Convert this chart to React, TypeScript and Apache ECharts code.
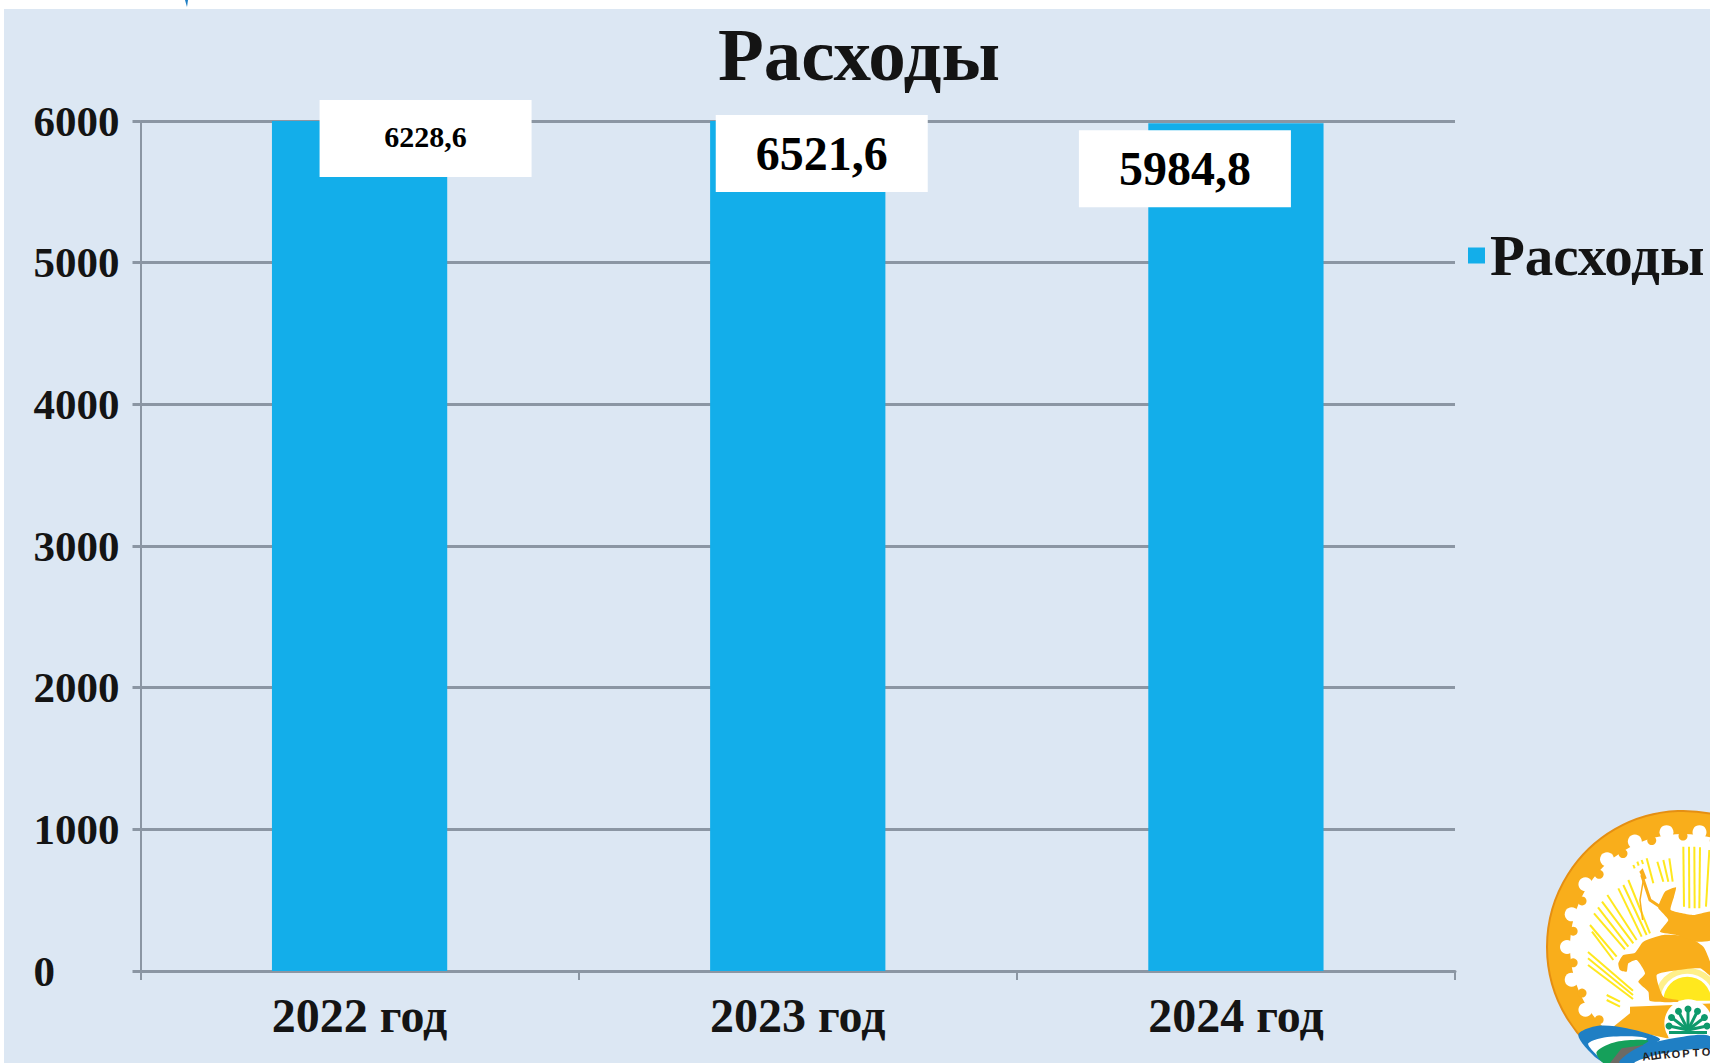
import React, { useEffect, useRef } from "react";
import * as echarts from "echarts";

const categories = ["2022 год", "2023 год", "2024 год"];
const expenses = [6228.6, 6521.6, 5984.8];
const seriesName = "Расходы";
const titleText = "Расходы";
const yTicks = [0, 1000, 2000, 3000, 4000, 5000, 6000];

const SERIF = '"Liberation Serif", "Times New Roman", serif';
const BG = "#DCE7F3";
const BAR = "#13AEEA";
const LINE = "#8B96A3";
const ORANGE = "#F9AE1B";
const YEL = "#FFE81E";

const P = (x: number, y: number): [number, number] => [1440 + x / 3, 780 + y / 3];
const PS = (a: number[][]) => a.map(([x, y]) => P(x, y));
const Q = (x: number, y: number): [number, number] => [1600 + x / 3, 800 + y / 3];
const QS = (a: number[][]) => a.map(([x, y]) => Q(x, y));

const RAYS: number[][] = [
  [250, 140, 252, 320], [267, 140, 268, 325], [283, 140, 284, 325], [300, 142, 298, 325], [328, 150, 318, 320],
  [172, 185, 190, 245], [190, 180, 205, 245], [208, 175, 218, 245],
  [100, 195, 104, 205], [112, 185, 116, 197], [125, 180, 129, 192], [140, 175, 160, 250],
  [55, 265, 125, 410], [70, 255, 140, 405], [85, 240, 150, 400],
  [22, 285, 110, 420], [6, 305, 100, 430], [-6, 322, 85, 440], [-18, 340, 75, 448],
  [-30, 375, 50, 470], [-24, 395, 40, 480], [-36, 456, 99, 572], [-36, 475, 99, 585], [-36, 495, 99, 597],
  [20, 585, 60, 605], [20, 600, 60, 620],
];

function buildLogo() {
  const cx = 1683, cy = 947, R = 136;
  const out: any[] = [];
  out.push({ type: "circle", shape: { cx, cy, r: R }, style: { fill: ORANGE, stroke: "#E58F12", lineWidth: 2 } });
  out.push({ type: "circle", shape: { cx, cy, r: 113 }, style: { fill: "#fff" } });
  const N = 22;
  for (let i = 0; i < N; i++) {
    const a = (i / N) * Math.PI * 2;
    const h = a + Math.PI / N;
    out.push({ type: "circle", shape: { cx: cx + Math.cos(a) * 116, cy: cy + Math.sin(a) * 116, r: 7 }, style: { fill: "#fff" } });
    out.push({ type: "circle", shape: { cx: cx + Math.cos(h) * 111, cy: cy + Math.sin(h) * 111, r: 4.5 }, style: { fill: ORANGE } });
  }
  RAYS.forEach(([x1, y1, x2, y2]) => {
    const a = Q(x1, y1), b = Q(x2, y2);
    out.push({ type: "line", shape: { x1: a[0], y1: a[1], x2: b[0], y2: b[1] }, style: { stroke: YEL, lineWidth: 2 } });
  });
  // sun
  const [sx, sy] = Q(262, 602);
  out.push({ type: "sector", shape: { cx: sx, cy: sy, r: 33, r0: 27, startAngle: Math.PI, endAngle: Math.PI * 2 }, style: { fill: "#FFF08A" } });
  out.push({ type: "sector", shape: { cx: sx, cy: sy, r: 24, startAngle: Math.PI, endAngle: Math.PI * 2 }, style: { fill: YEL } });
  // horse
  out.push({ type: "polygon", shape: { smooth: 0.2, points: QS([[55,490],[70,465],[105,458],[130,425],[190,405],[260,410],[310,440],[335,500],[335,530],[300,505],[220,512],[170,525],[190,590],[235,600],[235,606],[150,603],[145,575],[115,545],[135,520],[110,480],[85,490],[80,515],[60,510]]) }, style: { fill: ORANGE } });
  // rider
  out.push({ type: "polygon", shape: { smooth: 0.15, points: QS([[178,310],[195,275],[228,262],[222,290],[212,330],[280,345],[335,335],[335,420],[290,425],[230,405],[180,395],[205,360],[175,325]]) }, style: { fill: ORANGE } });
  // arm and bow
  out.push({ type: "polyline", shape: { points: QS([[125,225],[150,300],[180,320]]) }, style: { stroke: ORANGE, lineWidth: 3, fill: "none" } });
  out.push({ type: "polygon", shape: { points: QS([[118,215],[128,205],[140,235],[130,240]]) }, style: { fill: ORANGE } });
  out.push({ type: "polyline", shape: { points: QS([[130,240],[120,300],[128,360]]) }, style: { stroke: ORANGE, lineWidth: 1.5, fill: "none" } });
  // stepped plinth
  out.push({ type: "polygon", shape: { points: QS([[40,680],[90,640],[90,620],[335,610],[335,710],[200,715]]) }, style: { fill: ORANGE } });
  out.push({ type: "circle", shape: { cx: Q(265, 670)[0], cy: Q(265, 670)[1], r: 24 }, style: { fill: "#fff" } });
  out.push({ type: "rect", shape: { x: Q(205, 680)[0], y: Q(205, 680)[1], width: 43, height: 11 }, style: { fill: "#fff" } });
  // kurai flower
  const [fx, fy] = Q(264, 696);
  for (let a = -90; a <= 90; a += 30) {
    const t = (a * Math.PI) / 180;
    const x = fx + Math.sin(t) * 19, y = fy - 6 - Math.cos(t) * 17;
    out.push({ type: "line", shape: { x1: fx, y1: fy - 2, x2: x, y2: y }, style: { stroke: "#0E9A6C", lineWidth: 3 } });
    out.push({ type: "circle", shape: { cx: x, cy: y, r: 3.5 }, style: { fill: "#0E9A6C" } });
  }
  out.push({ type: "rect", shape: { x: fx - 19, y: fy - 1, width: 38, height: 3 }, style: { fill: "#0E9A6C" } });
  // ribbon
  out.push({ type: "polygon", shape: { smooth: 0.3, points: PS([[415,765],[470,738],[560,745],[660,778],[590,810],[510,849],[470,835]]) }, style: { fill: "#1F7FC4" } });
  out.push({ type: "polygon", shape: { smooth: 0.3, points: PS([[445,790],[510,770],[620,775],[560,810],[500,849],[470,825]]) }, style: { fill: "#fff" } });
  out.push({ type: "polygon", shape: { smooth: 0.3, points: PS([[470,815],[530,785],[625,782],[570,815],[530,849],[490,849]]) }, style: { fill: "#15A05A" } });
  out.push({ type: "polygon", shape: { points: PS([[510,849],[545,805],[610,795],[570,849]]) }, style: { fill: "#6D6A64" } });
  out.push({ type: "polygon", shape: { smooth: 0.3, points: PS([[540,849],[590,805],[700,775],[812,770],[812,849]]) }, style: { fill: "#1F7FC4" } });
  out.push({ type: "polygon", shape: { smooth: 0.3, points: PS([[585,849],[660,822],[812,808],[812,849]]) }, style: { fill: "#fff" } });
  const letters = "АШҠОРТО".split("");
  letters.forEach((ch, i) => {
    out.push({
      type: "text",
      x: 1646 + i * 10,
      y: 1056 - i * 0.7,
      rotation: ((10 - i * 1.7) * Math.PI) / 180,
      style: { text: ch, fill: "#222", font: `bold 11px "Liberation Sans", sans-serif`, textAlign: "center", textVerticalAlign: "middle" },
    });
  });
  return out;
}

const labelBoxes = [
  { dx: 66, dy: -21, size: 30 },
  { dx: 24, dy: -6, size: 48 },
  { dx: -51, dy: 7, size: 48 },
];

export default function App() {
  const ref = useRef<HTMLDivElement>(null);
  useEffect(() => {
    document.body.style.margin = "0";
    const chart = echarts.init(ref.current!, undefined, { renderer: "svg" });
    chart.setOption({
      animation: false,
      backgroundColor: "#fff",
      textStyle: { fontFamily: SERIF },
      title: {
        text: titleText,
        left: 854,
        top: 12,
        textAlign: "center",
        textStyle: { fontFamily: SERIF, fontWeight: "bold", fontSize: 75, color: "#141414" },
      },
      legend: {
        show: true,
        left: 1468,
        top: 227,
        icon: "rect",
        itemWidth: 17,
        itemHeight: 16,
        itemGap: 0,
        padding: 0,
        textStyle: { fontFamily: SERIF, fontWeight: "bold", fontSize: 57, color: "#141414", padding: [0, 0, 0, 0] },
      },
      grid: { left: 140.5, top: 121, width: 1314.5, height: 850, containLabel: false },
      xAxis: {
        type: "category",
        data: categories,
        axisLine: { lineStyle: { color: LINE, width: 3 } },
        axisTick: { show: true, length: 9, lineStyle: { color: LINE, width: 2 } },
        axisLabel: { margin: 20, fontFamily: SERIF, fontWeight: "bold", fontSize: 48, color: "#141414" },
      },
      yAxis: {
        type: "value",
        min: 0,
        max: 6000,
        interval: 1000,
        axisLine: { show: true, lineStyle: { color: LINE, width: 2 } },
        axisTick: { show: true, length: 8, lineStyle: { color: LINE, width: 3 } },
        splitLine: { show: true, lineStyle: { color: LINE, width: 3 } },
        axisLabel: {
          margin: 107,
          align: "left",
          padding: [8, 0, 0, 0],
          fontFamily: SERIF,
          fontWeight: "bold",
          fontSize: 43,
          color: "#141414",
          formatter: (v: number) => (yTicks.includes(v) ? String(v) : ""),
        },
      },
      graphic: {
        elements: [
          { type: "rect", z: -10, shape: { x: 4, y: 9, width: 1706, height: 1054 }, style: { fill: BG } },
          { type: "polygon", z: -5, shape: { points: [[185, 0], [188, 0], [187, 7]] }, style: { fill: "#1F7FC4" } },
          { type: "group", z: -5, children: buildLogo() },
        ],
      },
      series: [
        {
          type: "bar",
          name: seriesName,
          barWidth: "40%",
          itemStyle: { color: BAR },
          data: expenses.map((v, i) => ({
            value: v,
            label: {
              show: true,
              position: "insideTop",
              distance: 0,
              offset: [labelBoxes[i].dx, labelBoxes[i].dy],
              width: 212,
              height: 77,
              lineHeight: i === 0 ? 72 : 77,
              align: "center",
              verticalAlign: "top",
              backgroundColor: "#fff",
              color: "#000",
              fontFamily: SERIF,
              fontWeight: "bold",
              fontSize: labelBoxes[i].size,
              formatter: () => v.toFixed(1).replace(".", ","),
            },
          })),
        },
      ],
    });
    return () => chart.dispose();
  }, []);
  return <div ref={ref} style={{ width: 1710, height: 1063 }} />;
}
